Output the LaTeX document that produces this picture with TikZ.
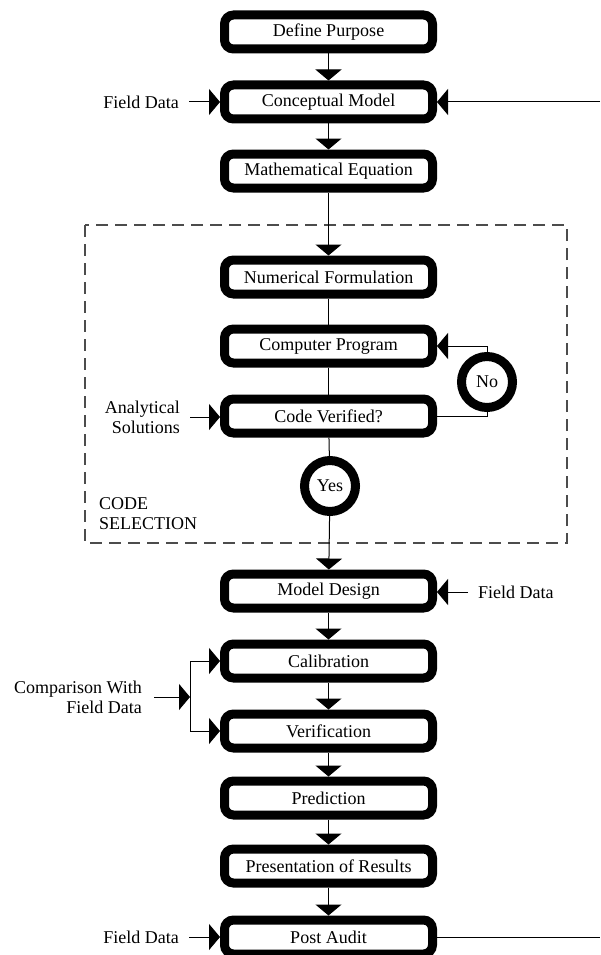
\documentclass[tikz,border=0pt]{standalone}
\usepackage{fontspec}
\setmainfont{Liberation Serif}
\usetikzlibrary{arrows.meta}

\begin{document}
\begin{tikzpicture}[x={(1pt,0)}, y={(0,-1pt)},
  every node/.style={font=\fontsize{18}{20}\selectfont},
  stage/.style={draw, line width=9pt, rounded corners=9pt, fill=white,
    minimum width=208pt, minimum height=34pt, inner sep=0pt},
  decision/.style={draw, circle, line width=9pt, fill=white,
    minimum size=51pt, inner sep=0pt},
  lbl/.style={inner sep=0pt},
  link/.style={line width=1pt},
  arr/.style={link, -{Triangle[width=26pt,length=11pt]}},
  region/.style={draw=black!70, line width=1.1pt, dash pattern=on 12pt off 7pt}]

\useasboundingbox (0,0) rectangle (600,955);

% code selection region
\draw[region] (85,225) rectangle (567,543);
\node[lbl, align=left, anchor=north west] (csel) at (99,497) {CODE\\SELECTION};

% main stages
\node[stage] (dp)   at (328.5,32)  {Define Purpose};
\node[stage] (cm)   at (328.5,102) {Conceptual Model};
\node[stage] (me)   at (328.5,171) {Mathematical Equation};
\node[stage] (nf)   at (328.5,277) {Numerical Formulation};
\node[stage] (cp)   at (328.5,346) {Computer Program};
\node[stage] (cv)   at (328.5,416) {Code Verified?};
\node[stage] (md)   at (328.5,591) {Model Design};
\node[stage] (cal)  at (328.5,661) {Calibration};
\node[stage] (ver)  at (328.5,731) {Verification};
\node[stage] (pred) at (328.5,798) {Prediction};
\node[stage] (pres) at (328.5,866) {Presentation of Results};
\node[stage] (pa)   at (328.5,937) {Post Audit};

% decisions
\node[decision] (no)  at (487,382) {No};
\node[decision] (yes) at (330,486) {Yes};

% side inputs
\node[lbl, anchor=east] (fd1) at (179,102) {Field Data};
\node[lbl, anchor=east] (fd2) at (179,937) {Field Data};
\node[lbl, anchor=west] (fd3) at (478,592) {Field Data};
\node[lbl, anchor=east, align=right] (an) at (180,417) {Analytical\\Solutions};
\node[lbl, anchor=east, align=right] (cmp) at (142,697) {Comparison With\\Field Data};
\coordinate (split) at (190,697);
\coordinate (outA) at (600,937);
\coordinate (outB) at (600,102);

% main flow
\draw[arr] (dp) -- (cm);
\draw[arr] (cm) -- (me);
\draw[arr] (me) -- (nf);
\draw[link] (nf) -- (cp);
\draw[link] (cp) -- (cv);
\draw[link] (cv) -- (yes);
\draw[arr] (yes) -- (md);
\draw[arr] (md) -- (cal);
\draw[arr] (cal) -- (ver);
\draw[arr] (ver) -- (pred);
\draw[arr] (pred) -- (pres);
\draw[arr] (pres) -- (pa);

% verification loop
\draw[link] (cv.east) -| (no.south);
\draw[arr] (no.north) |- (cp.east);

% inputs
\draw[arr, shorten <=10pt] (fd1.east) -- (cm.west |- fd1.east);
\draw[arr, shorten <=10pt] (fd2.east) -- (pa.west |- fd2.east);
\draw[arr, shorten <=10pt] (fd3.west) -- (md.east |- fd3.west);
\draw[arr, shorten <=10pt] (an.east) -- (cv.west |- an.east);
\draw[arr, shorten <=12pt] (cmp.east) -- (split);
\draw[arr] (split) |- (cal.west);
\draw[arr] (split) |- (ver.west);

% feedback from post audit
\draw[link] (pa.east) -- (outA);
\draw[arr] (outB) -- (cm.east);
\end{tikzpicture}
\end{document}
